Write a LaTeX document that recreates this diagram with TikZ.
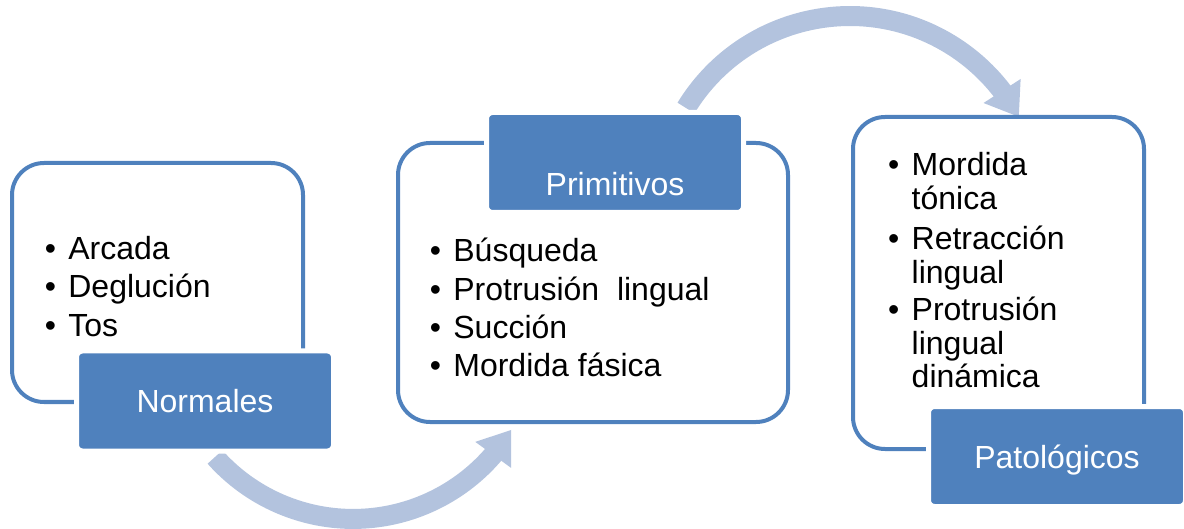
\documentclass[tikz,border=0pt]{standalone}
\usepackage{fontspec}
\setmainfont{Liberation Sans}
\usetikzlibrary{arrows.meta,bending}
\definecolor{boxblue}{HTML}{4F81BD}
\definecolor{flowblue}{HTML}{B3C3DE}
\newcommand{\bul}[1]{\textbullet\hspace{6.2pt}\begin{tabular}[t]{@{}l@{}}#1\end{tabular}}

\begin{document}
\begin{tikzpicture}[x=0.5pt,y=-0.5pt,
        group/.style={draw=boxblue,line width=2pt,rounded corners=16pt},
        title/.style={fill=boxblue,draw=white,line width=2.5pt,rounded corners=3pt,
            minimum width=128.5pt,minimum height=50pt,inner sep=0pt,text=white,
            font=\fontsize{16}{16}\selectfont,text height=11.5pt,text depth=0pt},
        item/.style={anchor=base west,inner sep=0pt,font=\fontsize{16}{16.5}\selectfont},
        flow/.style={flowblue,line width=10pt,-{Triangle[width=21pt,length=15.5pt]}}]
            \useasboundingbox (0,0) rectangle (1184,529);
            % arrows
            \coordinate (f1) at (215,457);
            \coordinate (f2) at (686,108);
            \draw[flow] (f1) arc[start angle=221.7,end angle=328.8,radius=92.5pt];
            \draw[flow] (f2) arc[start angle=148.6,end angle=28.3,radius=96pt];
            % groups
            \draw[group] (12,163) rectangle (303,402);
            \draw[group] (398,143) rectangle (788,422);
            \draw[group] (853,117) rectangle (1144,449);
            \node[title] (normales) at (205,401) {Normales};
            \node[title,text height=33.5pt] (primitivos) at (615,162.5) {Primitivos};
            \node[title] (patologicos) at (1057,456.5) {Patológicos};
            % lists
            \node[item] (n1) at (44.4,260) {\bul{Arcada}};
            \node[item] (n2) at (44.4,298) {\bul{Deglución}};
            \node[item] (n3) at (44.4,336) {\bul{Tos}};
            \node[item] (p1) at (429.4,262) {\bul{Búsqueda}};
            \node[item] (p2) at (429.4,301) {\bul{Protrusión\ \ lingual}};
            \node[item] (p3) at (429.4,339) {\bul{Succión}};
            \node[item] (p4) at (429.4,377) {\bul{Mordida fásica}};
            \node[item] (t1) at (887.7,176) {\bul{Mordida\\tónica}};
            \node[item] (t2) at (887.7,250) {\bul{Retracción\\lingual}};
            \node[item] (t3) at (887.7,321) {\bul{Protrusión\\lingual\\dinámica}};
        \end{tikzpicture}
\end{document}
